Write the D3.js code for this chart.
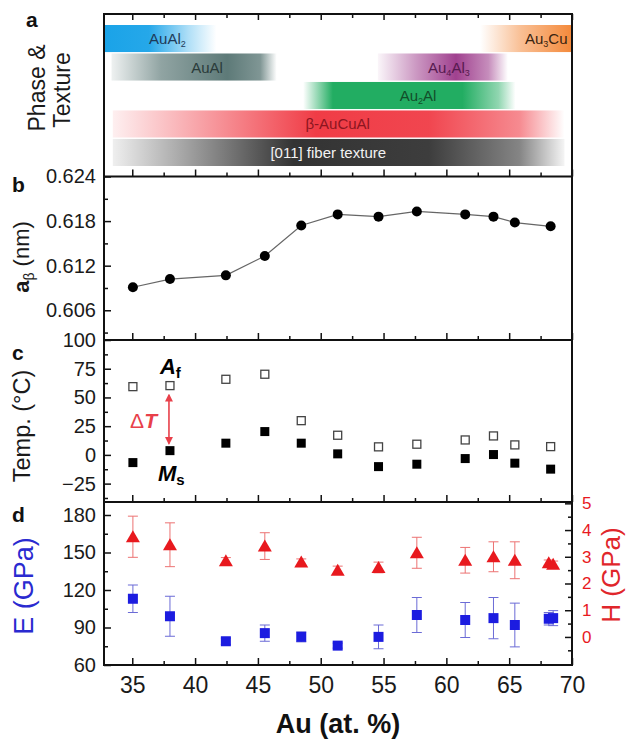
<!DOCTYPE html>
<html>
<head>
<meta charset="utf-8">
<script src="https://cdn.jsdelivr.net/npm/d3@7"></script>
<style>
	body { margin: 0; background: #fff; }
	svg { display: block; font-family: "Liberation Sans", Arial, sans-serif; }
</style>
</head>
<body>
<svg id="chart" width="627" height="745"></svg>
<script>

// ---- Data ----

// Au content of the 12 films (panels b and c):
var auContent = [35.05, 38.0, 42.45, 45.55, 48.45, 51.35, 54.6, 57.65, 61.5, 63.75, 65.45, 68.3];
// b: lattice parameter of the beta phase (nm)
var latticeParam = [0.6091, 0.6102, 0.6107, 0.6133, 0.6174, 0.6189, 0.6186, 0.6193, 0.6189, 0.6186, 0.6178, 0.6173];
// c: transformation temperatures (°C)
var afTemp = [59.4, 60.3, 65.8, 70.2, 29.8, 17.1, 7.0, 9.3, 13.0, 16.5, 8.7, 7.2];
var msTemp = [-6.7, 3.7, 10.2, 20.3, 10.2, 0.9, -10.2, -8.1, -3.2, 0.3, -7.2, -12.4];

// d: nanoindentation (last film measured twice)
var indentAu = [35.05, 38.0, 42.45, 45.55, 48.45, 51.35, 54.6, 57.65, 61.5, 63.75, 65.45, 68.15, 68.5];
var modulus = [113, 99, 79, 85.5, 82.5, 75.5, 82.5, 100, 96, 97.5, 92, 97, 97.5];
var modulusErr = [11, 16, 2.5, 6.5, 4, 2, 9.5, 14, 14, 16.5, 17.5, 5, 6];
var hardness = [3.75, 3.45, 2.85, 3.4, 2.8, 2.5, 2.6, 3.15, 2.87, 3.0, 2.87, 2.78, 2.72];
var hardnessErr = [0.77, 0.82, 0.12, 0.5, 0.12, 0.15, 0.2, 0.58, 0.48, 0.56, 0.69, 0.1, 0.12];

// a: phases and texture ("_n" is a subscript)
var phaseNames = ["AuAl_2", "Au_3Cu", "AuAl", "Au_4Al_3", "Au_2Al", "\u03b2-AuCuAl", "[011] fiber texture"];
var phaseStart = [32.75, 62.7, 33.35, 54.55, 48.6, 33.45, 33.45];
var phaseEnd = [41.7, 70, 46.5, 64.9, 65.5, 69.4, 69.4];
var phaseRow = [0, 0, 1, 1, 2, 3, 4];

// Tick values
var xTicks = [35, 40, 45, 50, 55, 60, 65, 70];
var xMinor = [37.5, 42.5, 47.5, 52.5, 57.5, 62.5, 67.5];
var latticeTicks = [0.606, 0.612, 0.618, 0.624];
var latticeMinor = [0.603, 0.609, 0.615, 0.621];
var tempTicks = [-25, 0, 25, 50, 75, 100];
var tempMinor = [-37.5, -12.5, 12.5, 37.5, 62.5, 87.5];
var modulusTicks = [60, 90, 120, 150, 180];
var modulusMinor = [75, 105, 135, 165];
var hardnessTicks = [0, 1, 2, 3, 4, 5];
var hardnessMinor = [-0.5, 0.5, 1.5, 2.5, 3.5, 4.5];


// ---- Layout ----
var svg = d3.select("#chart");
var frameL = 104, frameR = 572;
var panelA = [14, 176.5], panelB = [176.5, 340], panelC = [340, 502], panelD = [502, 665];

var x = d3.scaleLinear().domain([32.75, 70]).range([frameL, frameR]);
var yB = d3.scaleLinear().domain([0.602, 0.624]).range([panelB[1], panelB[0]]);
var yC = d3.scaleLinear().domain([-41, 100]).range([panelC[1], panelC[0]]);
var yE = d3.scaleLinear().domain([60, 190.4]).range([panelD[1], panelD[0]]);
var yH = d3.scaleLinear().domain([-1.05, 5.05]).range([panelD[1], panelD[0]]);
var rowBand = d3.scaleBand().domain([0, 1, 2, 3, 4]).range([25, 166]).paddingInner(0.05);

var blue = "#1c1ce0", red = "#e8191e";

// Colours and fading of the phase bars (offset, opacity):
var phaseStyle = [
	{ color: "#1aa3e8", text: "#1f3a58", stops: [[0, 1], [0.4, 0.95], [0.75, 0.35], [1, 0]], labelAt: 37.8 },
	{ color: "#f4893a", text: "#3a2410", stops: [[0, 0], [0.45, 0.55], [1, 1]], labelAt: 67.95 },
	{ color: "#557371", text: "#2a3b3a", stops: [[0, 0.1], [0.3, 0.65], [0.7, 0.95], [0.9, 0.75], [1, 0]], labelAt: 40.95 },
	{ color: "#a0418f", text: "#561a4f", stops: [[0, 0.05], [0.3, 0.55], [0.6, 1], [0.85, 0.6], [1, 0]], labelAt: 60.2 },
	{ color: "#22ad62", text: "#124d2a", stops: [[0, 0], [0.14, 1], [0.75, 1], [0.92, 0.5], [1, 0]], labelAt: 57.75 },
	{ color: "#f03c46", text: "#8c1520", stops: [[0, 0.08], [0.45, 1], [0.7, 0.95], [0.9, 0.6], [1, 0]], labelAt: 51.35 },
	{ color: "#333333", text: "#f2f2f2", stops: [[0, 0.08], [0.4, 1], [0.7, 0.95], [0.9, 0.6], [1, 0.05]], labelAt: 50.6 }
];

var defs = svg.append("defs");

// ---- Panel a: phase bars ----
phaseNames.forEach(function(name, i) {
	var st = phaseStyle[i];
	var grad = defs.append("linearGradient").attr("id", "phase_" + i)
		.attr("x1", "0%").attr("x2", "100%").attr("y1", "0%").attr("y2", "0%");
	st.stops.forEach(function(s) {
		grad.append("stop").attr("offset", s[0]).attr("stop-color", st.color).attr("stop-opacity", s[1]);
	});
	svg.append("rect")
		.attr("x", x(phaseStart[i]))
		.attr("y", rowBand(phaseRow[i]))
		.attr("width", x(phaseEnd[i]) - x(phaseStart[i]))
		.attr("height", rowBand.bandwidth())
		.attr("fill", "url(#phase_" + i + ")");
});

phaseNames.forEach(function(name, i) {
	var t = svg.append("text")
		.attr("x", x(phaseStyle[i].labelAt))
		.attr("y", rowBand(phaseRow[i]) + rowBand.bandwidth() / 2 + 5.5)
		.attr("text-anchor", "middle")
		.attr("font-size", 15)
		.attr("fill", phaseStyle[i].text);
	// Split the name in normal and subscript parts:
	var shift = 0;
	name.split(/(_\d)/).forEach(function(part) {
		if (!part) return;
		if (part[0] == "_") {
			t.append("tspan").attr("font-size", 9).attr("dy", 3 - shift).text(part.slice(1));
			shift = 3;
		} else {
			t.append("tspan").attr("dy", -shift).text(part);
			shift = 0;
		}
	});
});

// ---- Axes ----
function styleAxis(g, labelSize, labelColor) {
	g.select(".domain").remove();
	g.selectAll("line").attr("stroke", "#111").attr("stroke-width", 1.5);
	g.attr("font-family", null).attr("font-size", labelSize)
		.selectAll("text").attr("fill", labelColor || "#1a1a1a");
}

// Bottom ticks (inward) for every panel, labels only under d:
[panelA, panelB, panelC, panelD].forEach(function(p, i) {
	var major = svg.append("g").attr("transform", "translate(0," + p[1] + ")")
		.call(d3.axisBottom(x).tickValues(xTicks).tickSizeInner(-7).tickSizeOuter(0)
			.tickPadding(12).tickFormat(i == 3 ? d3.format("d") : ""));
	styleAxis(major, 23);
	var minor = svg.append("g").attr("transform", "translate(0," + p[1] + ")")
		.call(d3.axisBottom(x).tickValues(xMinor).tickSizeInner(-4).tickSizeOuter(0).tickFormat(""));
	styleAxis(minor, 10);
});

// Top ticks of panel a:
var topMajor = svg.append("g").attr("transform", "translate(0," + panelA[0] + ")")
	.call(d3.axisTop(x).tickValues(xTicks).tickSizeInner(-6).tickSizeOuter(0).tickFormat(""));
styleAxis(topMajor, 10);
var topMinor = svg.append("g").attr("transform", "translate(0," + panelA[0] + ")")
	.call(d3.axisTop(x).tickValues(xMinor).tickSizeInner(-4).tickSizeOuter(0).tickFormat(""));
styleAxis(topMinor, 10);

// Left axes:
function leftAxis(scale, major, minor, fmt) {
	var g = svg.append("g").attr("transform", "translate(" + frameL + ",0)")
		.call(d3.axisLeft(scale).tickValues(major).tickSizeInner(-7).tickSizeOuter(0)
			.tickPadding(8).tickFormat(fmt));
	styleAxis(g, 20);
	var m = svg.append("g").attr("transform", "translate(" + frameL + ",0)")
		.call(d3.axisLeft(scale).tickValues(minor).tickSizeInner(-4).tickSizeOuter(0).tickFormat(""));
	styleAxis(m, 10);
}
leftAxis(yB, latticeTicks, latticeMinor, d3.format(".3f"));
leftAxis(yC, tempTicks, tempMinor, d3.format("d"));
leftAxis(yE, modulusTicks, modulusMinor, d3.format("d"));

// Right axis of panel d (hardness):
var hMajor = svg.append("g").attr("transform", "translate(" + frameR + ",0)")
	.call(d3.axisRight(yH).tickValues(hardnessTicks).tickSizeInner(-7).tickSizeOuter(0)
		.tickPadding(10).tickFormat(d3.format("d")));
styleAxis(hMajor, 17, red);
var hMinor = svg.append("g").attr("transform", "translate(" + frameR + ",0)")
	.call(d3.axisRight(yH).tickValues(hardnessMinor).tickSizeInner(-4).tickSizeOuter(0).tickFormat(""));
styleAxis(hMinor, 10);

// ---- Panel b: lattice parameter ----
var latticePts = auContent.map(function(d, i) { return [d, latticeParam[i]]; });
svg.append("path")
	.datum(latticePts)
	.attr("d", d3.line().x(function(d) { return x(d[0]); }).y(function(d) { return yB(d[1]); }))
	.attr("fill", "none")
	.attr("stroke", "#666")
	.attr("stroke-width", 1.2);
svg.selectAll("circle.lattice")
	.data(latticePts)
	.enter().append("circle")
	.attr("class", "lattice")
	.attr("cx", function(d) { return x(d[0]); })
	.attr("cy", function(d) { return yB(d[1]); })
	.attr("r", 5)
	.attr("fill", "#000");

// ---- Panel c: Af (open) and Ms (filled) ----
svg.selectAll("rect.af")
	.data(auContent)
	.enter().append("rect")
	.attr("class", "af")
	.attr("x", function(d) { return x(d) - 4; })
	.attr("y", function(d, i) { return yC(afTemp[i]) - 4; })
	.attr("width", 8).attr("height", 8)
	.attr("fill", "#fff")
	.attr("stroke", "#444")
	.attr("stroke-width", 1.3);
svg.selectAll("rect.ms")
	.data(auContent)
	.enter().append("rect")
	.attr("class", "ms")
	.attr("x", function(d) { return x(d) - 4.5; })
	.attr("y", function(d, i) { return yC(msTemp[i]) - 4.5; })
	.attr("width", 9).attr("height", 9)
	.attr("fill", "#000");

// Annotations Af / Ms / delta T:
var af = svg.append("text").attr("x", x(38) - 10).attr("y", yC(70)).attr("font-weight", "bold");
af.append("tspan").attr("font-style", "italic").attr("font-size", 22).text("A");
af.append("tspan").attr("font-size", 15).attr("dy", 4).text("f");
var ms = svg.append("text").attr("x", x(38) - 12).attr("y", yC(-22.6)).attr("font-weight", "bold");
ms.append("tspan").attr("font-style", "italic").attr("font-size", 22).text("M");
ms.append("tspan").attr("font-size", 15).attr("dy", 4).text("s");
var dt = svg.append("text").attr("x", x(38) - 13).attr("y", yC(23)).attr("text-anchor", "end")
	.attr("fill", "#e8404a").attr("font-size", 21);
dt.append("tspan").text("\u0394");
dt.append("tspan").attr("font-style", "italic").attr("font-weight", "bold").text("T");

defs.append("marker").attr("id", "arrowHead")
	.attr("viewBox", "0 0 10 10").attr("refX", 8).attr("refY", 5)
	.attr("markerWidth", 5).attr("markerHeight", 5).attr("orient", "auto-start-reverse")
	.append("path").attr("d", "M0,0L10,5L0,10z").attr("fill", "#e8404a");
svg.append("line")
	.attr("x1", x(38) - 1).attr("x2", x(38) - 1)
	.attr("y1", yC(52)).attr("y2", yC(10))
	.attr("stroke", "#e8404a").attr("stroke-width", 1.6)
	.attr("marker-start", "url(#arrowHead)").attr("marker-end", "url(#arrowHead)");

// ---- Panel d: E (blue squares) and H (red triangles) ----
function errorBars(cls, yScale, values, errors, color) {
	var g = svg.append("g").attr("class", cls).attr("stroke", color).attr("stroke-width", 1);
	indentAu.forEach(function(a, i) {
		var cx = x(a), top = yScale(values[i] + errors[i]), bot = yScale(values[i] - errors[i]);
		g.append("line").attr("x1", cx).attr("x2", cx).attr("y1", top).attr("y2", bot);
		g.append("line").attr("x1", cx - 5).attr("x2", cx + 5).attr("y1", top).attr("y2", top);
		g.append("line").attr("x1", cx - 5).attr("x2", cx + 5).attr("y1", bot).attr("y2", bot);
	});
}
errorBars("eErr", yE, modulus, modulusErr, "#6b6bd6");
errorBars("hErr", yH, hardness, hardnessErr, "#ec7272");

svg.selectAll("rect.modulus")
	.data(indentAu)
	.enter().append("rect")
	.attr("class", "modulus")
	.attr("x", function(d) { return x(d) - 5; })
	.attr("y", function(d, i) { return yE(modulus[i]) - 5; })
	.attr("width", 10).attr("height", 10)
	.attr("fill", blue);
svg.selectAll("path.hardness")
	.data(indentAu)
	.enter().append("path")
	.attr("class", "hardness")
	.attr("d", "M0,-6.5L7,5.5L-7,5.5Z")
	.attr("transform", function(d, i) { return "translate(" + x(d) + "," + yH(hardness[i]) + ")"; })
	.attr("fill", red);

// ---- Frame ----
svg.append("rect")
	.attr("x", frameL).attr("y", panelA[0])
	.attr("width", frameR - frameL).attr("height", panelD[1] - panelA[0])
	.attr("fill", "none").attr("stroke", "#111").attr("stroke-width", 2);
[panelA[1], panelB[1], panelC[1]].forEach(function(yy) {
	svg.append("line").attr("x1", frameL).attr("x2", frameR).attr("y1", yy).attr("y2", yy)
		.attr("stroke", "#111").attr("stroke-width", 2);
});

// ---- Titles ----
function vTitle(cx, cy, size, color) {
	return svg.append("text")
		.attr("transform", "translate(" + cx + "," + cy + ")rotate(-90)")
		.attr("text-anchor", "middle")
		.attr("font-size", size)
		.attr("fill", color || "#1a1a1a");
}
vTitle(45, 88, 23).text("Phase &");
vTitle(70, 90, 23).text("Texture");
var ab = vTitle(29, 257, 22);
ab.append("tspan").attr("font-weight", "bold").text("a");
ab.append("tspan").attr("font-size", 14).attr("dy", 5).text("\u03b2");
ab.append("tspan").attr("dy", -5).text(" (nm)");
vTitle(30, 426, 23.5).text("Temp. (\u00b0C)");
vTitle(33, 586, 27, "#2a2ad0").text("E (GPa)");
vTitle(620, 575, 26, "#e0262b").text("H (GPa)");

svg.append("text")
	.attr("x", (frameL + frameR) / 2).attr("y", 733)
	.attr("text-anchor", "middle")
	.attr("font-size", 27).attr("font-weight", "bold")
	.attr("fill", "#111")
	.text("Au (at. %)");

// Panel letters:
[["a", 26, 27], ["b", 12, 192], ["c", 12, 360], ["d", 12, 522]].forEach(function(l) {
	svg.append("text").attr("x", l[1]).attr("y", l[2])
		.attr("font-size", 21).attr("font-weight", "bold").attr("fill", "#111")
		.text(l[0]);
});

</script>
</body>
</html>
